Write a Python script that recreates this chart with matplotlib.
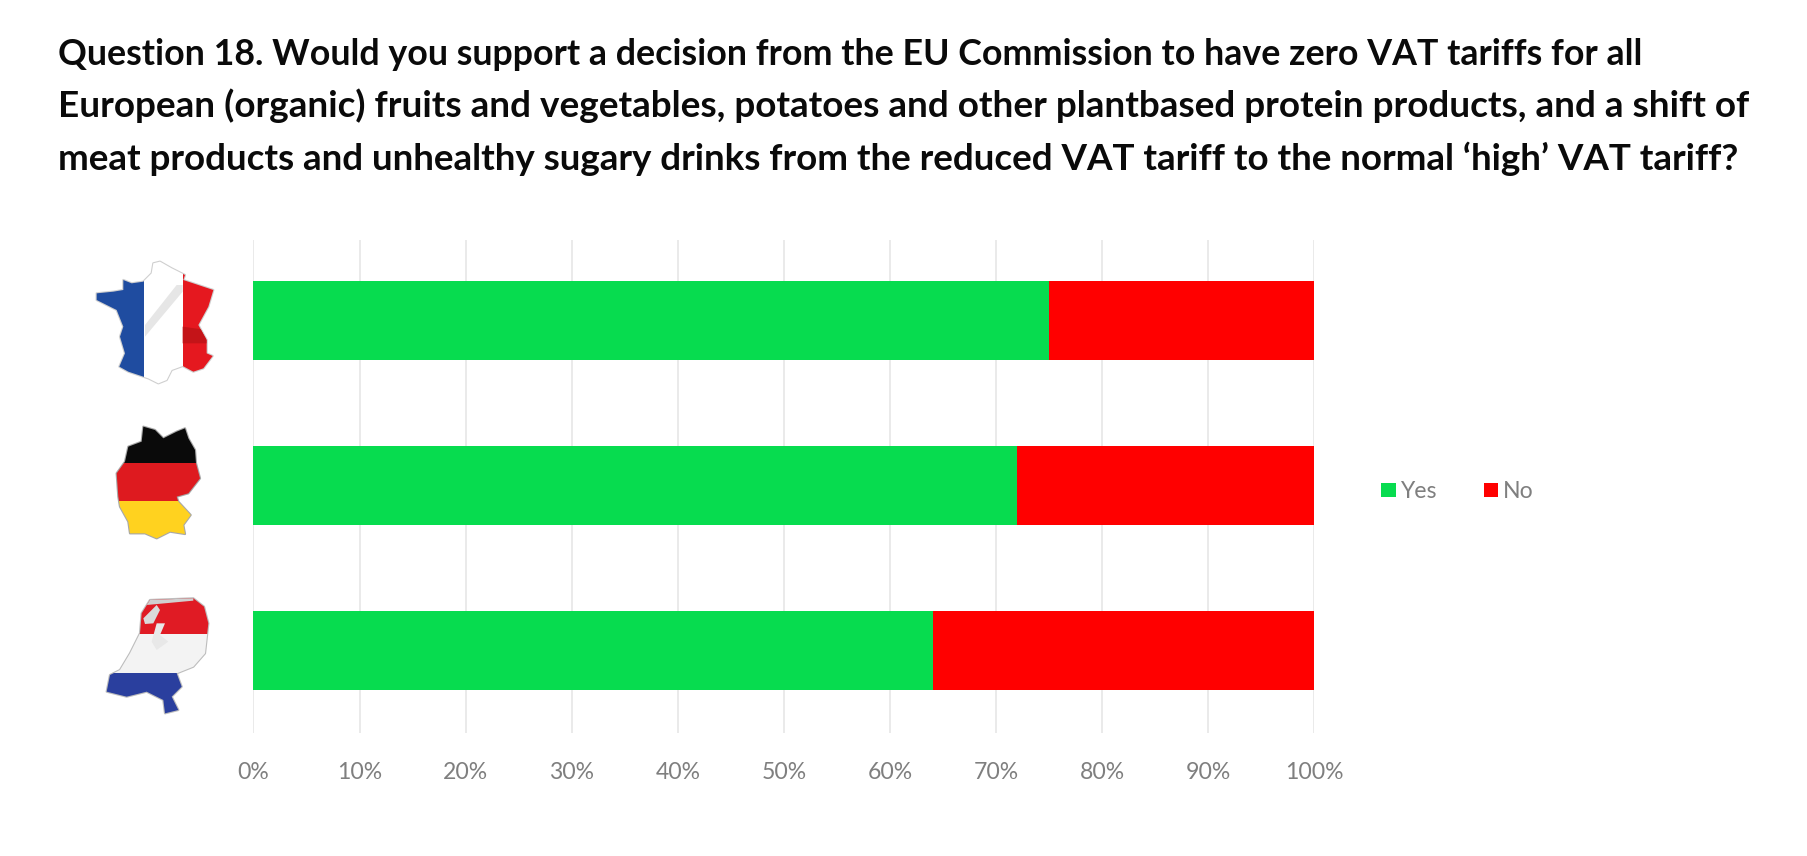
import matplotlib
matplotlib.use('Agg')
import matplotlib.pyplot as plt
from matplotlib.patches import Polygon, Rectangle

# ---- data ----
countries = ['France', 'Germany', 'Netherlands']
yes_values = [75, 72, 64]
no_values = [25, 28, 36]
series_names = ['Yes', 'No']
x_ticks = list(range(0, 101, 10))
x_tick_labels = [f'{v}%' for v in x_ticks]
title_lines = [
    'Question 18. Would you support a decision from the EU Commission to have zero VAT tariffs for all',
    'European (organic) fruits and vegetables, potatoes and other plantbased protein products, and a shift of',
    'meat products and unhealthy sugary drinks from the reduced VAT tariff to the normal \u2018high\u2019 VAT tariff?',
]

W, H = 1808, 856
GREEN, RED, GREY, GRID = '#07DC4F', '#FF0000', '#7F7F7F', '#E4E4E4'
plt.rcParams['font.family'] = ['Lato', 'DejaVu Sans']

fig = plt.figure(figsize=(W / 100, H / 100), dpi=100, facecolor='white')
ax = fig.add_axes([253.5 / W, 1 - 733 / H, (1314.5 - 253.5) / W, (733 - 240) / H])

pos = list(range(len(countries)))
bh = 78.5 / 165
bar_yes = ax.barh(pos, yes_values, height=bh, color=GREEN, label=series_names[0], zorder=3)
bar_no = ax.barh(pos, no_values, left=yes_values, height=bh, color=RED, label=series_names[1], zorder=3)
ax.set_xlim(0, 100)
ax.set_ylim(1 + 247.5 / 165, 1 - 245.5 / 165)
ax.set_xticks(x_ticks)
ax.set_xticklabels(x_tick_labels, color=GREY, fontsize=16.6)
ax.set_yticks(pos)
ax.set_yticklabels([])
ax.tick_params(axis='both', length=0)
ax.tick_params(axis='x', pad=21)
ax.grid(axis='x', color=GRID, lw=1.1, zorder=0)
ax.set_axisbelow(True)
for s in ax.spines.values():
    s.set_visible(False)

fig.legend(handles=[bar_yes, bar_no], labels=series_names, loc='center left',
           bbox_to_anchor=(1381 / W, 1 - 491.5 / H), ncol=2, frameon=False,
           fontsize=16.6, labelcolor=GREY, handlelength=0.64, handleheight=0.6,
           handletextpad=0.2, columnspacing=2.03, borderpad=0, borderaxespad=0)

baselines = [65, 117, 170]
title_sizes = [25.73, 26.55, 26.47]
for line, b, fs in zip(title_lines, baselines, title_sizes):
    fig.text(58 / W, 1 - b / H, line, fontsize=fs, fontweight='bold', color='#0A0A0A',
             ha='left', va='baseline')

# ---- decorative flag-shaped maps, in pixel space ----
ov = fig.add_axes([0, 0, 1, 1], facecolor='none', zorder=5)
ov.set_xlim(0, W)
ov.set_ylim(H, 0)
ov.axis('off')

def px(points):
    return [(60 + x / 3, 230 + y / 3) for x, y in points]

def country(outline, stripes, extras=(), edge='#BDBDBD'):
    shape = Polygon(px(outline), closed=True, fc='white', ec=edge, lw=1.6, zorder=1, joinstyle='round')
    ov.add_patch(shape)
    clip = Polygon(px(outline), closed=True, transform=ov.transData)
    for (x0, y0, x1, y1, col) in stripes:
        (a, b), (c, d) = px([(x0, y0), (x1, y1)])
        r = Rectangle((a, b), c - a, d - b, fc=col, ec='none', zorder=2)
        ov.add_patch(r)
        r.set_clip_path(clip)
    for pts, col in extras:
        p = Polygon(px(pts), closed=True, fc=col, ec='none', zorder=3)
        ov.add_patch(p)
        p.set_clip_path(clip)

france = [(300, 95), (335, 115), (375, 135), (370, 150), (460, 180), (445, 230), (415, 285), (440, 330),
          (440, 370), (458, 378), (430, 415), (400, 425), (368, 408), (335, 420), (320, 450), (295, 460),
          (265, 445), (250, 440), (205, 425), (178, 410), (195, 370), (180, 320), (190, 290), (170, 240),
          (110, 210), (110, 190), (160, 185), (190, 180), (190, 150), (215, 160), (250, 155), (275, 130), (280, 100)]
country(france,
        [(100, 90, 252, 470, '#1F4CA0'), (252, 90, 368, 470, '#FFFFFF'), (368, 90, 470, 470, '#E5181F')],
        [([(255, 320), (255, 285), (350, 165), (368, 165), (368, 185)], '#E6E6E6'),
         ([(368, 340), (368, 290), (440, 300), (440, 340)], '#C41418')], edge='#CFCFCF')

germany = [(250, 590), (285, 600), (310, 625), (350, 605), (375, 595), (385, 625), (405, 660), (408, 700),
           (420, 745), (385, 790), (350, 800), (355, 815), (392, 855), (370, 885), (375, 912), (330, 905),
           (290, 925), (255, 910), (210, 910), (205, 875), (180, 830), (175, 800), (170, 730), (195, 695),
           (205, 650), (245, 635)]
country(germany,
        [(160, 580, 430, 698, '#0A0A0A'), (160, 698, 430, 812, '#DE1A1F'), (160, 812, 430, 930, '#FFD21F')],
        edge='#A8A8A8')

netherlands = [(270, 1110), (400, 1105), (432, 1130), (445, 1180), (435, 1270), (400, 1310), (350, 1330),
               (365, 1370), (335, 1400), (355, 1440), (315, 1450), (310, 1410), (260, 1385), (200, 1400),
               (140, 1385), (150, 1335), (180, 1320), (210, 1270), (240, 1210), (245, 1150)]
country(netherlands,
        [(130, 1100, 450, 1212, '#E01B24'), (130, 1212, 450, 1328, '#F3F3F3'), (130, 1328, 450, 1460, '#2A3F9E')],
        [([(250, 1165), (290, 1125), (300, 1140), (280, 1180), (255, 1182)], '#DADADA'),
         ([(290, 1180), (315, 1180), (300, 1215), (325, 1235), (290, 1260), (275, 1235)], '#E8E8E8'),
         ([(250, 1105), (400, 1100), (400, 1112), (260, 1125)], '#D0D0D0')])

fig.savefig('out.png', dpi=100)
